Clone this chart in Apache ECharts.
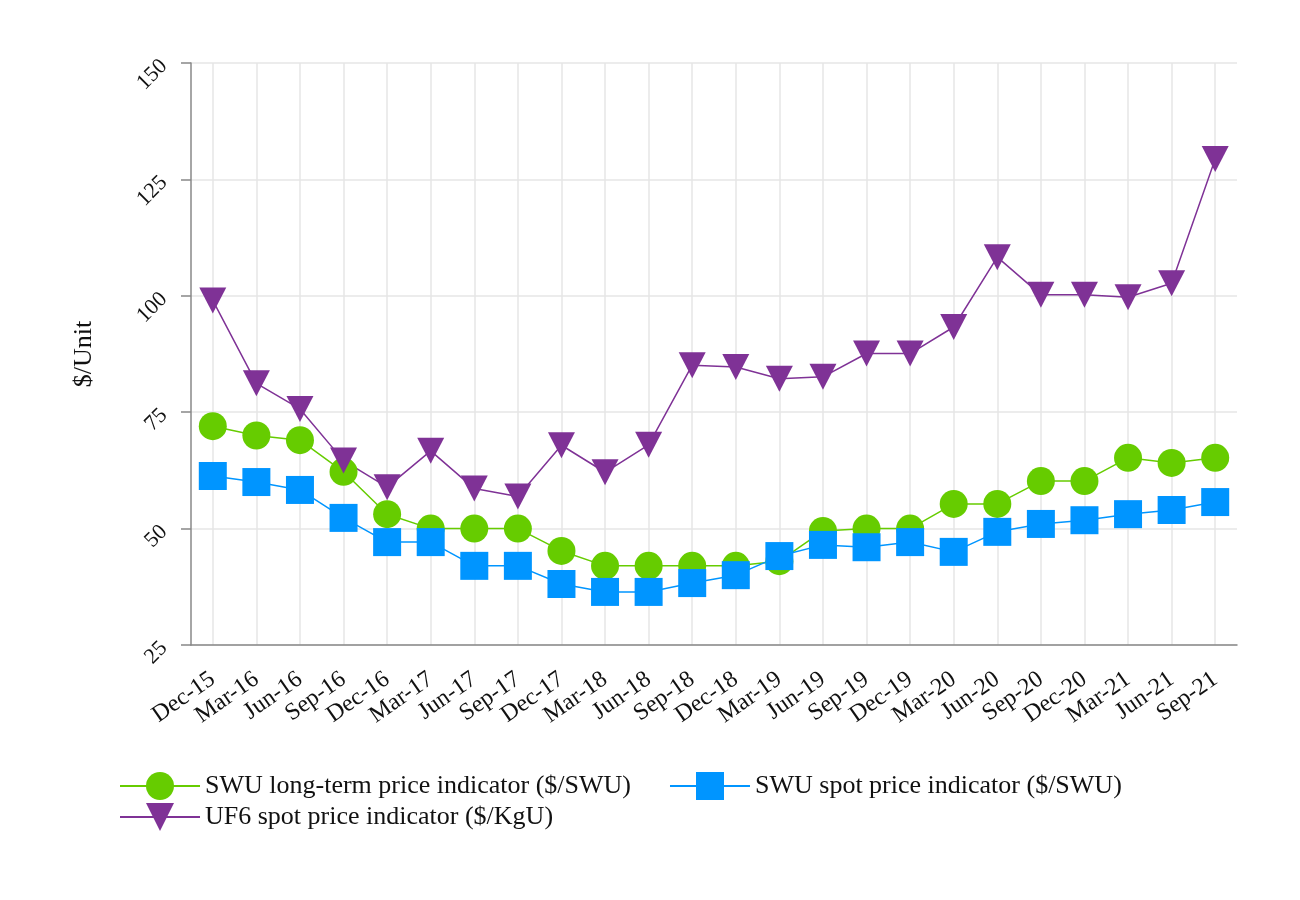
<!DOCTYPE html>
<html><head><meta charset="utf-8">
<script src="https://cdn.jsdelivr.net/npm/echarts@6/dist/echarts.min.js"></script>
<style>html,body{margin:0;padding:0;background:#fff}#c{width:1300px;height:900px}</style>
</head><body><div id="c"></div>
<script>
const categories = ['Dec-15','Mar-16','Jun-16','Sep-16','Dec-16','Mar-17','Jun-17','Sep-17','Dec-17','Mar-18','Jun-18','Sep-18','Dec-18','Mar-19','Jun-19','Sep-19','Dec-19','Mar-20','Jun-20','Sep-20','Dec-20','Mar-21','Jun-21','Sep-21'];
const swuLongTerm = [72,70,69,62.2,53.1,50,50,50,45.2,42,42,42,42,43,49.5,50,50,55.3,55.3,60.2,60.2,65.2,64.1,65.2];
const swuSpot = [61.3,60,58.3,52.3,47.1,47.1,42,42,38.1,36.4,36.4,38.3,40,44.1,46.5,46,47.1,45,49.3,51,51.8,53.1,54,55.7];
const uf6Spot = [99,81.2,75.7,64.6,58.9,66.7,58.6,56.9,67.9,62.1,68,85.1,84.7,82.2,82.6,87.6,87.6,93.3,108.3,100.2,100.2,99.7,102.7,129.4];
const seriesNames = ['SWU long-term price indicator ($/SWU)','SWU spot price indicator ($/SWU)','UF6 spot price indicator ($/KgU)'];
const yTicks = {min:25,max:150,interval:25};

const font = 'Liberation Serif, Times New Roman, serif';
const chart = echarts.init(document.getElementById('c'));
function mk(name, data, color, symbol, size){
  return {name, type:'line', data, symbol, symbolSize:size, showSymbol:true,
    lineStyle:{color, width:1.5}, itemStyle:{color}, animation:false, z: 2};
}
const legendCommon = {itemWidth:80, itemHeight:35, itemGap:38,
  lineStyle:{width:2},
  textStyle:{fontFamily:font, fontSize:26, color:'#111'}};
chart.setOption({
  animation:false,
  textStyle:{fontFamily:font},
  grid:{left:191, right:63, top:63, bottom:255, containLabel:false},
  legend:[
    Object.assign({left:114, top:767, data:[seriesNames[0], seriesNames[1]]}, legendCommon),
    Object.assign({left:114, top:798, data:[seriesNames[2]]}, legendCommon)
  ],
  xAxis:{type:'category', data:categories, boundaryGap:true,
    axisLine:{lineStyle:{color:'#888', width:1.5}},
    axisTick:{alignWithLabel:true, length:8, lineStyle:{color:'#888', width:1.5}},
    axisLabel:{rotate:35, fontSize:24, color:'#111', fontFamily:font, margin:32, interval:0},
    splitLine:{show:true, alignWithLabel:true, lineStyle:{color:'#e6e6e6', width:1.5}}},
  yAxis:{type:'value', min:yTicks.min, max:yTicks.max, interval:yTicks.interval,
    name:'$/Unit', nameLocation:'middle', nameGap:94, nameRotate:90,
    nameTextStyle:{fontFamily:font, fontSize:26, color:'#111'},
    axisLine:{show:true, lineStyle:{color:'#888', width:1.5}},
    axisTick:{show:true, length:10, lineStyle:{color:'#888', width:1.5}},
    axisLabel:{rotate:45, fontSize:22, color:'#111', fontFamily:font, margin:27},
    splitLine:{show:true, lineStyle:{color:'#e6e6e6', width:1.5}}},
  series:[
    mk(seriesNames[0], swuLongTerm, '#66CC00', 'circle', 28),
    mk(seriesNames[1], swuSpot, '#0095FF', 'rect', 28),
    mk(seriesNames[2], uf6Spot, '#7F3296', 'path://M0,0L10,0L5,10Z', [27,26])
  ]
});
</script></body></html>
